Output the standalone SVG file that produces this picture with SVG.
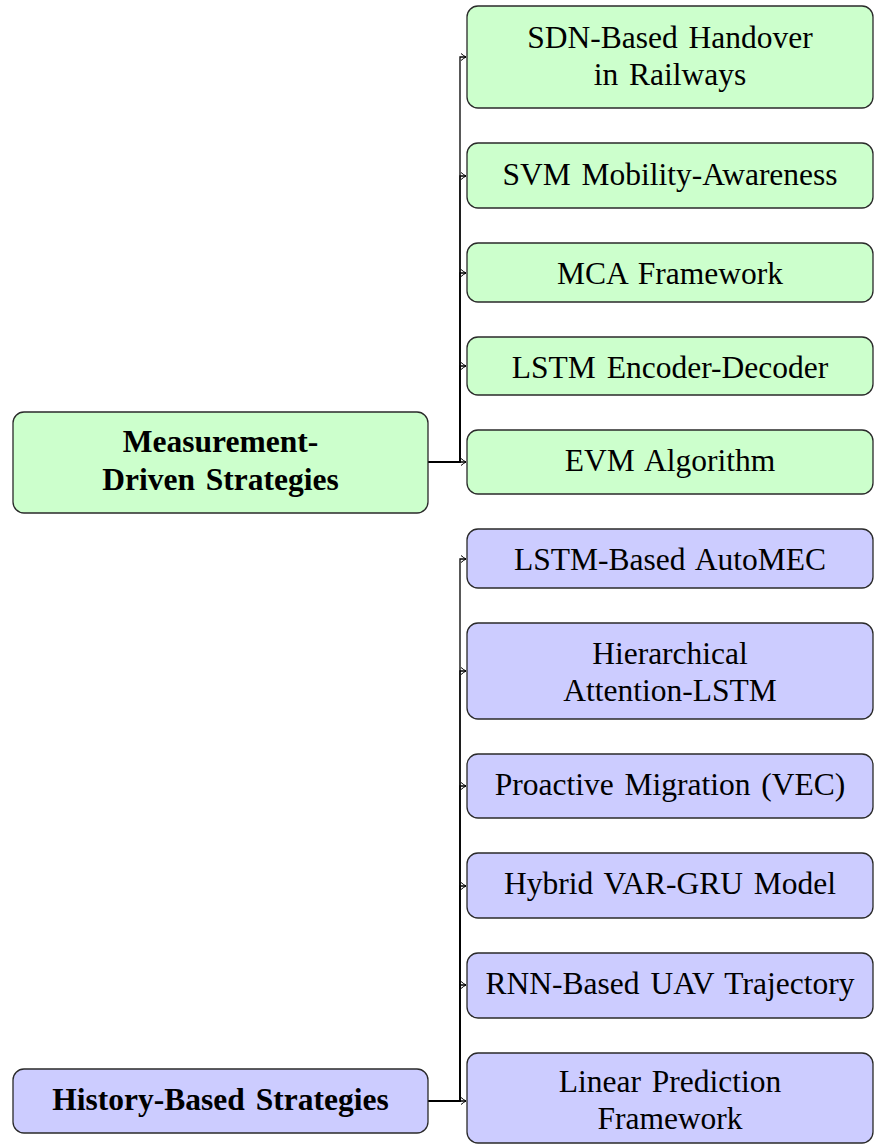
<svg xmlns="http://www.w3.org/2000/svg" width="874" height="1146" viewBox="0 0 874 1146">
  <style>
    .box { stroke: #2a2a2a; stroke-width: 1.3; }
    .meas { fill: #ccffcc; }
    .hist { fill: #ccccff; }
    text { font-family: "Liberation Serif", "Times New Roman", serif; font-size: 31.5px; fill: #000; text-anchor: middle; word-spacing: 3px; }
    .head { font-weight: bold; }
    .edge { fill: none; stroke: #000; stroke-width: 1.3; }
  </style>
  <defs>
    <marker id="tip" viewBox="-6 -4 8 8" markerWidth="8" markerHeight="8" refX="0" refY="0" orient="auto" markerUnits="userSpaceOnUse">
      <path d="M-5,-3.5 Q-2,-1 0,0 Q-2,1 -5,3.5" fill="none" stroke="#000" stroke-width="1"/>
    </marker>
  </defs>

  <rect width="874" height="1146" fill="#fff"/>

  <!-- connectors: parent east side, vertical trunk at x=460, into each child -->
  <g id="connectors">
    <path class="edge" d="M428,462 H460 V57 H466" marker-end="url(#tip)"/>
    <path class="edge" d="M428,462 H460 V176 H466" marker-end="url(#tip)"/>
    <path class="edge" d="M428,462 H460 V273 H466" marker-end="url(#tip)"/>
    <path class="edge" d="M428,462 H460 V366 H466" marker-end="url(#tip)"/>
    <path class="edge" d="M428,462 H460 V462 H466" marker-end="url(#tip)"/>

    <path class="edge" d="M428,1101 H460 V559 H466" marker-end="url(#tip)"/>
    <path class="edge" d="M428,1101 H460 V671 H466" marker-end="url(#tip)"/>
    <path class="edge" d="M428,1101 H460 V786 H466" marker-end="url(#tip)"/>
    <path class="edge" d="M428,1101 H460 V886 H466" marker-end="url(#tip)"/>
    <path class="edge" d="M428,1101 H460 V985 H466" marker-end="url(#tip)"/>
    <path class="edge" d="M428,1101 H460 V1101 H466" marker-end="url(#tip)"/>
  </g>

  <!-- measurement-driven branch -->
  <g id="measurement-driven">
    <rect class="box meas" x="13" y="412" width="415" height="101" rx="11"/>
    <text class="head" x="220.5" y="452">Measurement-</text>
    <text class="head" x="220.5" y="490">Driven Strategies</text>
  </g>
  <g id="sdn-handover">
    <rect class="box meas" x="467" y="6" width="406" height="102" rx="11"/>
    <text x="670" y="48">SDN-Based Handover</text>
    <text x="670" y="85">in Railways</text>
  </g>
  <g id="svm-mobility">
    <rect class="box meas" x="467" y="143" width="406" height="65" rx="11"/>
    <text x="670" y="185">SVM Mobility-Awareness</text>
  </g>
  <g id="mca-framework">
    <rect class="box meas" x="467" y="243" width="406" height="59" rx="11"/>
    <text x="670" y="284">MCA Framework</text>
  </g>
  <g id="lstm-encdec">
    <rect class="box meas" x="467" y="337" width="406" height="58" rx="11"/>
    <text x="670" y="378">LSTM Encoder-Decoder</text>
  </g>
  <g id="evm-algorithm">
    <rect class="box meas" x="467" y="430" width="406" height="64" rx="11"/>
    <text x="670" y="471">EVM Algorithm</text>
  </g>

  <!-- history-based branch -->
  <g id="history-based">
    <rect class="box hist" x="13" y="1069" width="415" height="64" rx="11"/>
    <text class="head" x="220.5" y="1110">History-Based Strategies</text>
  </g>
  <g id="lstm-automec">
    <rect class="box hist" x="467" y="529" width="406" height="59" rx="11"/>
    <text x="670" y="570">LSTM-Based AutoMEC</text>
  </g>
  <g id="hier-attention">
    <rect class="box hist" x="467" y="623" width="406" height="96" rx="11"/>
    <text x="670" y="664">Hierarchical</text>
    <text x="670" y="701">Attention-LSTM</text>
  </g>
  <g id="proactive-migration">
    <rect class="box hist" x="467" y="754" width="406" height="64" rx="11"/>
    <text x="670" y="795">Proactive Migration (VEC)</text>
  </g>
  <g id="var-gru">
    <rect class="box hist" x="467" y="853" width="406" height="65" rx="11"/>
    <text x="670" y="894">Hybrid VAR-GRU Model</text>
  </g>
  <g id="rnn-uav">
    <rect class="box hist" x="467" y="953" width="406" height="65" rx="11"/>
    <text x="670" y="994">RNN-Based UAV Trajectory</text>
  </g>
  <g id="linear-prediction">
    <rect class="box hist" x="467" y="1053" width="406" height="90" rx="11"/>
    <text x="670" y="1092">Linear Prediction</text>
    <text x="670" y="1129">Framework</text>
  </g>
</svg>
